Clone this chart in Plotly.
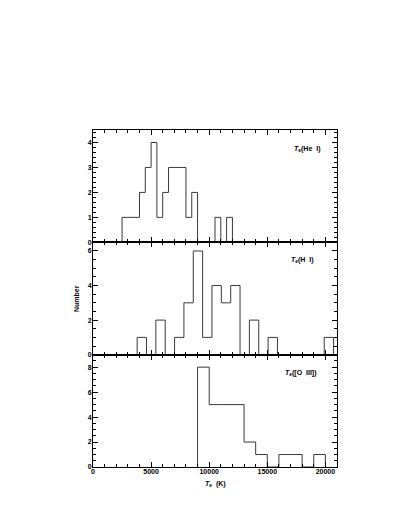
import plotly.graph_objects as go

# ---- data ----
he_edges = [2500, 3000, 3500, 4000, 4500, 5000, 5500, 6000, 6500, 7000,
            7500, 8000, 8500, 9000, 9500, 10000, 10500, 11000, 11500, 12000]
he_counts = [1, 1, 1, 2, 3, 4, 1, 2, 3, 3, 3, 1, 2, 0, 0, 0, 1, 0, 1]

hi_edges = [3800, 4605, 5410, 6215, 7020, 7825, 8630, 9435, 10240, 11045, 11850,
            12655, 13460, 14265, 15070, 15875, 16680, 17485, 18290, 19095, 19900, 20705]
hi_counts = [1, 0, 2, 0, 1, 3, 6, 1, 4, 3, 4, 0, 2, 0, 1, 0, 0, 0, 0, 0, 1]

oiii_edges = [9000, 10000, 11000, 12000, 13000, 14000, 15000, 16000, 17000, 18000, 19000, 20000]
oiii_counts = [8, 5, 5, 5, 2, 1, 0, 1, 1, 0, 1]

panel_labels = ["<i>T</i><sub>e</sub>(He  I)", "<i>T</i><sub>e</sub>(H  I)", "<i>T</i><sub>e</sub>([O  III])"]
x_ticks = [0, 5000, 10000, 15000, 20000]


def step_xy(edges, counts):
    xs = [edges[0]]
    ys = [0]
    for i, c in enumerate(counts):
        xs += [edges[i], edges[i + 1]]
        ys += [c, c]
    xs.append(edges[-1])
    ys.append(0)
    return xs, ys


FONT = "Liberation Sans"
fig = go.Figure()

panels = [
    (he_edges, he_counts, "x", "y", [0, 4.5], 1, 0.2, (18450, 3.72)),
    (hi_edges, hi_counts, "x2", "y2", [0, 6.5], 2, 0.5, (18000, 5.45)),
    (oiii_edges, oiii_counts, "x3", "y3", [0, 9], 2, 0.5, (17900, 7.5)),
]
domains = [[2 / 3, 1], [1 / 3, 2 / 3], [0, 1 / 3]]

for idx, (edges, counts, xa, ya, yr, ydt, ymin, lab) in enumerate(panels):
    xs, ys = step_xy(edges, counts)
    fig.add_trace(go.Scatter(x=xs, y=ys, mode="lines", xaxis=xa, yaxis=ya,
                             line=dict(color="#3a3a3a", width=1), showlegend=False,
                             hoverinfo="skip"))
    n = "" if idx == 0 else str(idx + 1)
    fig.layout["xaxis" + n] = dict(
        domain=[0, 1], anchor="y" + n, range=[0, 21000],
        tickvals=x_ticks, ticktext=[str(v) for v in x_ticks],
        showticklabels=(idx == 2), ticks="inside", ticklen=5, tickwidth=1, tickcolor="black",
        minor=dict(dtick=1000, tick0=0, ticks="inside", ticklen=3, tickcolor="black", tickwidth=1),
        showline=True, linecolor="black", linewidth=1, mirror="allticks",
        showgrid=False, zeroline=False, ticklabelstandoff=-2,
        tickfont=dict(family=FONT, size=7, color="black", weight="bold"),
        **({} if idx == 0 else {"matches": "x"})
    )
    fig.layout["yaxis" + n] = dict(
        domain=domains[idx], anchor="x" + n, range=yr, dtick=ydt, tick0=0,
        ticks="inside", ticklen=5, tickwidth=1, tickcolor="black",
        minor=dict(dtick=ymin, tick0=0, ticks="inside", ticklen=3, tickcolor="black", tickwidth=1),
        showline=True, linecolor="black", linewidth=1, mirror="allticks",
        showgrid=False, zeroline=False, ticklabelstandoff=-1,
        tickfont=dict(family=FONT, size=7, color="black", weight="bold"),
    )
    fig.add_annotation(x=lab[0], y=lab[1], xref=xa, yref=ya, text=panel_labels[idx],
                       showarrow=False, font=dict(family=FONT, size=7, color="black", weight="bold"))

fig.add_annotation(x=-0.045, y=0.5, xref="paper", yref="paper", text="Number", textangle=-90,
                   showarrow=False, xanchor="right", yanchor="middle",
                   font=dict(family=FONT, size=7, color="black", weight="bold"))
fig.add_annotation(x=0.5, y=-0.034, xref="paper", yref="paper", text="<i>T</i><sub>e</sub>  (K)",
                   showarrow=False, xanchor="center", yanchor="top",
                   font=dict(family=FONT, size=7, color="black", weight="bold"))

fig.update_layout(
    width=396, height=515,
    margin=dict(l=85, r=67, t=122, b=56, pad=0),
    paper_bgcolor="white", plot_bgcolor="white",
)

fig.write_html("out.html")
